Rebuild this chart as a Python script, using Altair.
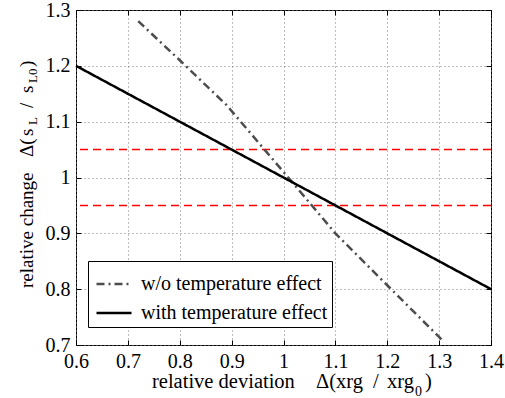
import altair as alt
import pandas as pd

# ---- data ----
series_names = ["w/o temperature effect", "with temperature effect"]
x_without = [0.72, 0.80, 0.89, 1.00, 1.10, 1.20, 1.31]
y_without = [1.28, 1.21, 1.13, 1.01, 0.90, 0.807, 0.705]
x_with = [0.6, 1.0, 1.4]
y_with = [1.2, 1.0, 0.8]
tolerance_levels = [1.05, 0.95]
x_ticks = [0.6, 0.7, 0.8, 0.9, 1.0, 1.1, 1.2, 1.3, 1.4]
y_ticks = [0.7, 0.8, 0.9, 1.0, 1.1, 1.2, 1.3]

rows = []
for i, (xv, yv) in enumerate(zip(x_without, y_without)):
    rows.append({"x": xv, "y": yv, "series": series_names[0], "o": i})
for i, (xv, yv) in enumerate(zip(x_with, y_with)):
    rows.append({"x": xv, "y": yv, "series": series_names[1], "o": i})
df = pd.DataFrame(rows)
df_tol = pd.DataFrame({"v": tolerance_levels})

FONT = "Liberation Serif, Times New Roman, Times, serif"
W, H = 415, 335
L, T = 76, 10

xs = alt.Scale(domain=[0.6, 1.4], nice=False, zero=False)
ys = alt.Scale(domain=[0.7, 1.3], nice=False, zero=False)

common = dict(domain=False, tickSize=5, tickColor="black", tickWidth=1, offset=-5,
              title=None, labelFont=FONT, labelColor="black", labelFlush=False,
              labelOverlap=False,
              gridColor="#7a7a7a", gridDash=[1, 3], gridWidth=1)

x_axis = alt.Axis(orient="bottom", values=x_ticks, format="~g", grid=True,
                  labelFontSize=20, labelPadding=6, **common)
y_axis = alt.Axis(orient="left", values=y_ticks, format="~g", grid=True,
                  labelFontSize=20, labelPadding=6, **common)
x_axis_top = alt.Axis(orient="top", values=x_ticks, grid=False, labels=False, **common)
y_axis_right = alt.Axis(orient="right", values=y_ticks, grid=False, labels=False, **common)

tol = alt.Chart(df_tol).mark_rule(color="#ff0000", strokeDash=[8, 5], strokeWidth=1.5).encode(
    y=alt.Y("v:Q", scale=ys, axis=None)
)

lines = alt.Chart(df).mark_line(strokeWidth=2.5).encode(
    x=alt.X("x:Q", scale=xs, axis=x_axis),
    y=alt.Y("y:Q", scale=ys, axis=y_axis),
    order="o:Q",
    color=alt.Color("series:N", title=None,
                    scale=alt.Scale(domain=series_names, range=["#4d4d4d", "#000000"])),
    strokeDash=alt.StrokeDash("series:N", title=None,
                              scale=alt.Scale(domain=series_names, range=[[8, 4, 2, 4], [1, 0]])),
)

frame_axes = alt.Chart(df).mark_point(opacity=0).encode(
    x=alt.X("x:Q", scale=xs, axis=x_axis_top),
    y=alt.Y("y:Q", scale=ys, axis=y_axis_right),
)


def piece(text, sx, sy, size, angle=0):
    return alt.Chart(alt.Data(values=[{}])).mark_text(
        text=text, font=FONT, fontSize=size, angle=angle, align="left",
        baseline="alphabetic", color="black"
    ).encode(x=alt.value(sx - L), y=alt.value(sy - T))


# axis titles with subscripts
x_title = [
    piece("relative deviation", 152, 388, 20.5),
    piece("Δ(xrg", 316, 388, 20.5),
    piece("/", 373, 388, 20.5),
    piece("xrg", 387, 388, 20.5),
    piece("0", 415, 396, 14),
    piece(")", 425, 388, 20.5),
]
y_title = [
    piece("relative change", 33, 288, 19, 270),
    piece("Δ(", 33, 157, 19, 270),
    piece("s", 33, 136, 19, 270),
    piece("L", 37, 125, 13, 270),
    piece("/", 33, 108, 19, 270),
    piece("s", 33, 93, 19, 270),
    piece("L0", 37, 83, 13, 270),
    piece(")", 33, 67, 19, 270),
]

chart = alt.layer(tol, lines, frame_axes, *x_title, *y_title).resolve_axis(
    x="independent", y="independent"
).properties(
    width=W, height=H,
    padding={"left": L, "top": T, "right": 505 - L - W, "bottom": 398 - T - H},
    autosize=alt.AutoSizeParams(type="none"),
).configure_view(
    stroke="black", strokeWidth=1
).configure_legend(
    orient="none", legendX=12, legendY=251,
    strokeColor="black", fillColor="white", padding=4, cornerRadius=0,
    labelFont=FONT, labelFontSize=20, labelColor="black", labelLimit=400,
    symbolType="stroke", symbolSize=1225, symbolStrokeWidth=2.5,
    symbolOffset=3, labelOffset=8, rowPadding=-1,
)

chart.save("out.html", embed_options={"renderer": "svg", "actions": False})
